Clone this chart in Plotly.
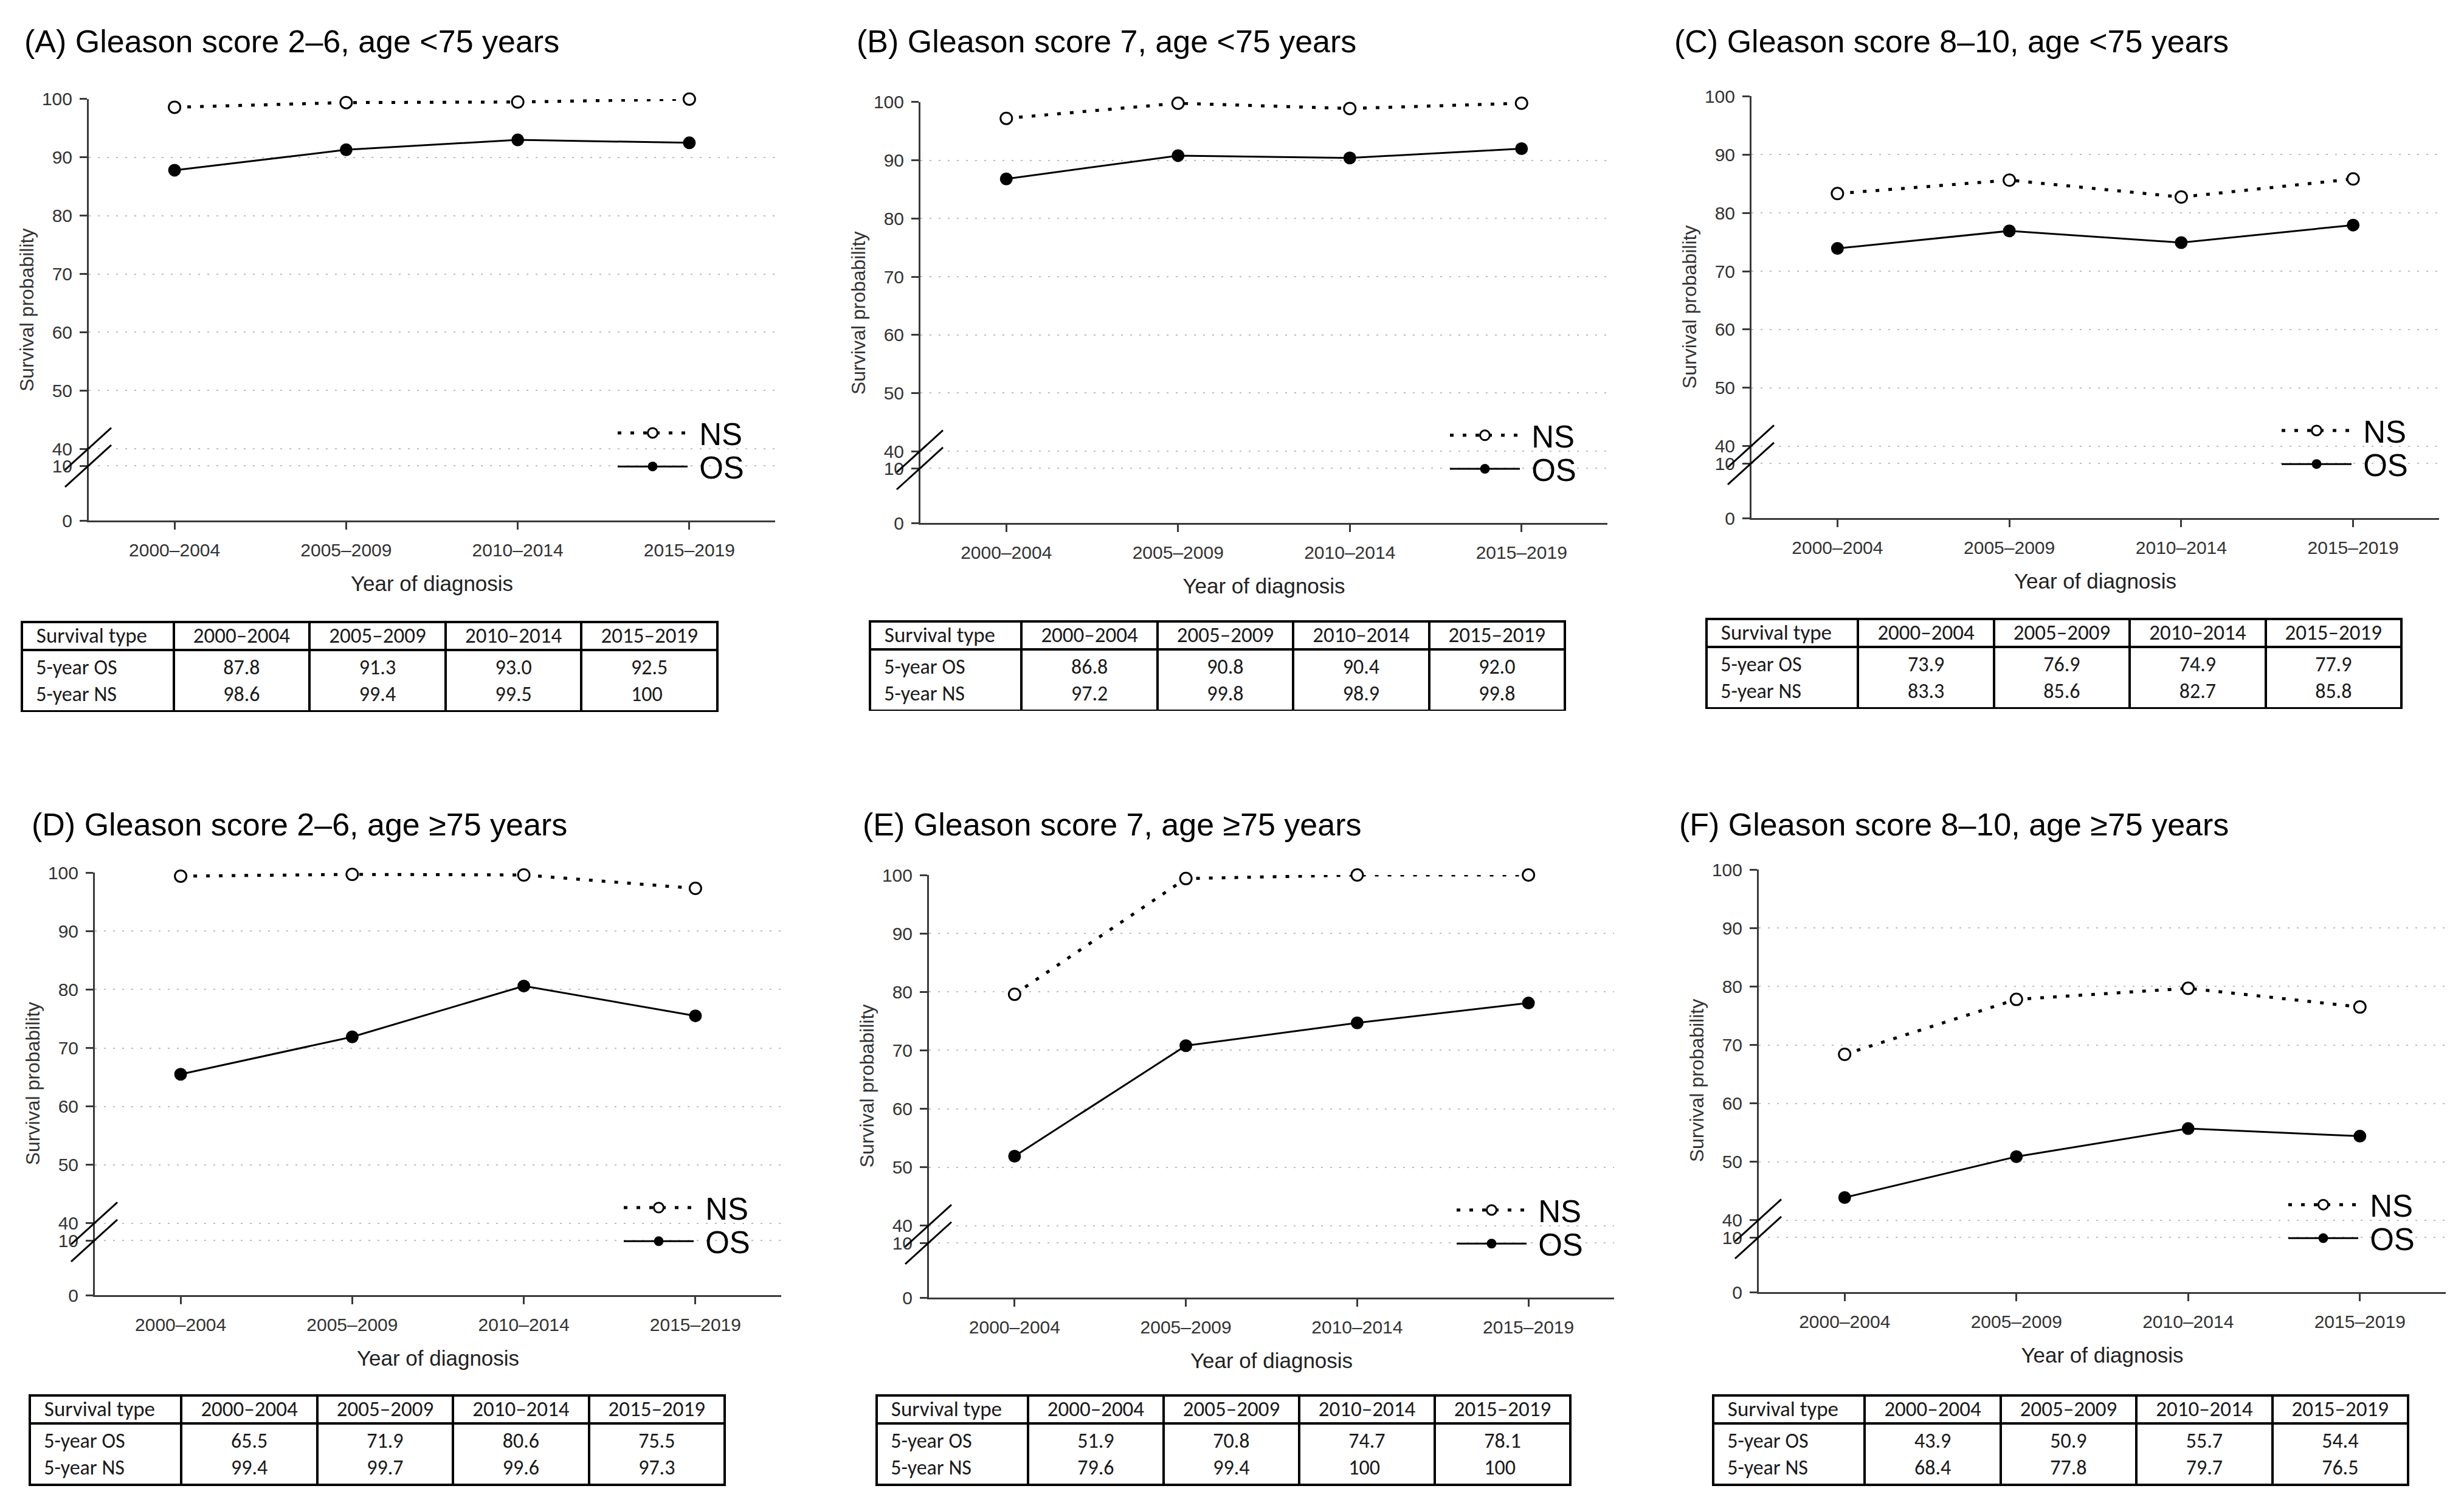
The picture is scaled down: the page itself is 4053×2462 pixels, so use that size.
import plotly.graph_objects as go

W, H = 4053, 2462

periods = ["2000–2004", "2005–2009", "2010–2014", "2015–2019"]

titles = [
    "(A) Gleason score 2–6, age <75 years",
    "(B) Gleason score 7, age <75 years",
    "(C) Gleason score 8–10, age <75 years",
    "(D) Gleason score 2–6, age ≥75 years",
    "(E) Gleason score 7, age ≥75 years",
    "(F) Gleason score 8–10, age ≥75 years",
]

# 5-year overall survival (OS) and net survival (NS), %
os_a = [87.8, 91.3, 93.0, 92.5]
ns_a = [98.6, 99.4, 99.5, 100]
os_b = [86.8, 90.8, 90.4, 92.0]
ns_b = [97.2, 99.8, 98.9, 99.8]
os_c = [73.9, 76.9, 74.9, 77.9]
ns_c = [83.3, 85.6, 82.7, 85.8]
os_d = [65.5, 71.9, 80.6, 75.5]
ns_d = [99.4, 99.7, 99.6, 97.3]
os_e = [51.9, 70.8, 74.7, 78.1]
ns_e = [79.6, 99.4, 100, 100]
os_f = [43.9, 50.9, 55.7, 54.4]
ns_f = [68.4, 77.8, 79.7, 76.5]

series = [(os_a, ns_a), (os_b, ns_b), (os_c, ns_c),
          (os_d, ns_d), (os_e, ns_e), (os_f, ns_f)]

upper_ticks = [40, 50, 60, 70, 80, 90, 100]
lower_ticks = [0, 10]

# panel geometry in page pixels: y-axis x, x-axis right end, y of 100, y of 0,
# title anchor, table box (left, right, top, bottom)
panels = [
    dict(x0=146, x1=1275, y100=148, y0=851, title=(38, 52), table=(36, 1180, 1020, 1151)),
    dict(x0=1514, x1=2644, y100=153, y0=855, title=(1407, 52), table=(1431, 2574, 1019, 1149)),
    dict(x0=2881, x1=4012, y100=143, y0=847, title=(2752, 52), table=(2807, 3951, 1015, 1146)),
    dict(x0=156, x1=1285, y100=1438, y0=2143, title=(50, 1358), table=(49, 1192, 2310, 2442)),
    dict(x0=1528, x1=2655, y100=1442, y0=2147, title=(1417, 1358), table=(1442, 2584, 2310, 2442)),
    dict(x0=2893, x1=4023, y100=1433, y0=2138, title=(2760, 1358), table=(2818, 3961, 2310, 2442)),
]

FONT = "Liberation Sans, Arial, sans-serif"
TABLE_FONT = "Carlito, Calibri, Liberation Sans, Arial, sans-serif"
AXIS_COL = "#3a3a3a"
GRID_COL = "#bdbdbd"
TICK_COL = "#333333"

BREAK_FRAC = 0.149          # share of the plot height below the axis break
UPPER_RANGE = [38.45, 100]
LOWER_RANGE = [0, 11.5]


def px(x):
    return min(max(x / W, 0), 1)


def py(y):
    return min(max(1 - y / H, 0), 1)


def fmt(v):
    return "100" if v == 100 else f"{v:.1f}"


fig = go.Figure()
layout = dict(annotations=[], shapes=[])

for i, (p, (os_v, ns_v)) in enumerate(zip(panels, series)):
    k = i + 1
    xk = "x" if k == 1 else f"x{k}"
    yu = 2 * k - 1
    yl = 2 * k
    yu_ref = "y" if yu == 1 else f"y{yu}"
    yl_ref = f"y{yl}"
    brk = BREAK_FRAC * (p["y0"] - p["y100"])

    leg_ns = "legend" if 2 * k - 1 == 1 else f"legend{2 * k - 1}"
    leg_os = f"legend{2 * k}"

    fig.add_trace(go.Scatter(
        x=periods, y=ns_v, name="\u00a0NS", mode="lines+markers",
        xaxis=xk, yaxis=yu_ref, legend=leg_ns, cliponaxis=False,
        line=dict(color="black", width=5, dash="6px,15px"),
        marker=dict(symbol="circle", size=19, color="white",
                    line=dict(color="black", width=3)),
    ))
    fig.add_trace(go.Scatter(
        x=periods, y=os_v, name="\u00a0OS", mode="lines+markers",
        xaxis=xk, yaxis=yu_ref, legend=leg_os, cliponaxis=False,
        line=dict(color="black", width=3),
        marker=dict(symbol="circle", size=21, color="black"),
    ))
    # the lower (0-10) part of the broken axis needs its own subplot;
    # the OS values all lie above its range, so nothing shows there
    fig.add_trace(go.Scatter(
        x=periods, y=os_v, mode="lines", xaxis=xk, yaxis=yl_ref,
        showlegend=False, hoverinfo="skip", opacity=0,
        line=dict(width=0),
    ))

    axis_common = dict(
        showline=True, linecolor=AXIS_COL, linewidth=3,
        ticks="outside", ticklen=12, tickwidth=3, tickcolor=AXIS_COL,
        tickfont=dict(family=FONT, size=30, color=TICK_COL),
        zeroline=False, fixedrange=True,
    )
    layout[f"xaxis{'' if k == 1 else k}"] = dict(
        axis_common, type="category", range=[-0.5, 3.5],
        domain=[px(p["x0"]), px(p["x1"])], anchor=yl_ref,
        showgrid=False, ticklabelstandoff=8,
        title=dict(text="Year of diagnosis", standoff=28,
                   font=dict(family=FONT, size=35, color="#222222")),
    )
    grid = dict(showgrid=True, gridcolor=GRID_COL, gridwidth=2, griddash="3px,12px")
    layout[f"yaxis{'' if yu == 1 else yu}"] = dict(
        axis_common, **grid, range=UPPER_RANGE, tickvals=upper_ticks,
        domain=[py(p["y0"] - brk), py(p["y100"])], anchor=xk,
        ticklabelstandoff=6,
    )
    layout[f"yaxis{yl}"] = dict(
        axis_common, **grid, range=LOWER_RANGE, tickvals=lower_ticks,
        domain=[py(p["y0"]), py(p["y0"] - brk)], anchor=xk,
        ticklabelstandoff=6,
    )

    # legends: one per series so the two rows sit at their own heights
    leg_common = dict(
        xanchor="left", yanchor="middle", bgcolor="rgba(0,0,0,0)",
        borderwidth=0, itemwidth=115, itemclick=False, itemdoubleclick=False,
        font=dict(family=FONT, size=51, color="black"),
    )
    leg_x = px(p["x1"] - 114 - 150)
    layout[leg_ns] = dict(leg_common, x=leg_x, y=py(p["y0"] - 146))
    layout[leg_os] = dict(leg_common, x=leg_x, y=py(p["y0"] - 90))

    # panel title and y-axis title
    tx, ty = p["title"]
    layout["annotations"].append(dict(
        text=titles[i], x=px(tx), y=py(ty), xref="paper", yref="paper",
        xanchor="left", yanchor="middle", showarrow=False,
        font=dict(family=FONT, size=52, color="black"),
    ))
    layout["annotations"].append(dict(
        text="Survival probability", textangle=-90,
        x=px(p["x0"] - 102), y=py(p["y100"] + 352), xref="paper", yref="paper",
        xanchor="center", yanchor="middle", showarrow=False,
        font=dict(family=FONT, size=32, color="#333333"),
    ))

    # axis-break slashes at the 40 and 10 gridlines
    y40 = p["y0"] - brk - (40 - UPPER_RANGE[0]) / (100 - UPPER_RANGE[0]) * (p["y0"] - brk - p["y100"])
    y10 = p["y0"] - 10 / LOWER_RANGE[1] * brk
    for yy in (y40, y10):
        layout["shapes"].append(dict(
            type="line", xref="paper", yref="paper",
            x0=px(p["x0"] - 39), y0=py(yy + 35),
            x1=px(p["x0"] + 37), y1=py(yy - 35),
            line=dict(color="black", width=3),
        ))

    # summary table under the panel
    tl, tr, tt, tb = p["table"]
    fig.add_trace(go.Table(
        domain=dict(x=[px(tl), px(tr)], y=[py(tb + 20), py(tt)]),
        columnwidth=[250, 224, 224, 224, 224],
        header=dict(
            values=["\u00a0\u00a0Survival type"] + periods,
            align=["left", "center"], height=46,
            fill=dict(color="white"),
            line=dict(color="black", width=4),
            font=dict(family=TABLE_FONT, size=35, color="#1a1a1a"),
        ),
        cells=dict(
            values=[["\u00a0\u00a05-year OS<br>\u00a0\u00a05-year NS"]]
            + [[f"{fmt(o)}<br>{fmt(n)}"] for o, n in zip(os_v, ns_v)],
            align=["left", "center"], height=86,
            fill=dict(color="white"),
            line=dict(color="black", width=4),
            font=dict(family=TABLE_FONT, size=34, color="#1a1a1a"),
        ),
    ))

fig.update_layout(
    **layout,
    width=W, height=H,
    margin=dict(l=0, r=0, t=0, b=0),
    paper_bgcolor="white", plot_bgcolor="white",
    showlegend=True,
    font=dict(family=FONT),
)

fig.write_html(
    "out.html",
    config={"displayModeBar": False},
    post_script="document.body.style.margin='0';document.body.style.overflow='hidden';",
)
